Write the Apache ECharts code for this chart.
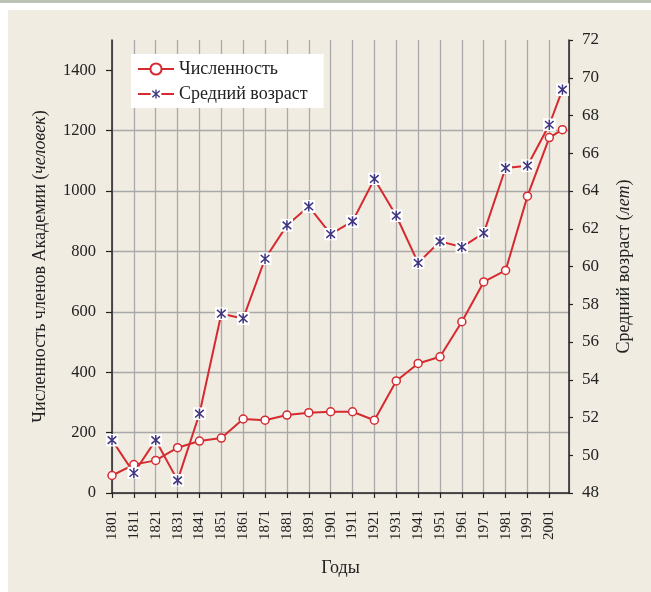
<!DOCTYPE html>
<html lang="ru">

<head>
	<meta charset="UTF-8" />
	<title>Численность и средний возраст членов Академии</title>
	<script src="https://cdn.jsdelivr.net/npm/echarts@6/dist/echarts.min.js"></script>
	<style type="text/css">
		html,
		body {
			margin: 0;
			padding: 0;
			background-color: #ffffff;
		}

		#chart {
			width: 651px;
			height: 592px;
		}
	</style>
</head>

<body>
	<div id="chart"></div>

	<script>
		//--------------------------- 數據 ---------------------------//

		const years = [1801, 1811, 1821, 1831, 1841, 1851, 1861, 1871, 1881, 1891, 1901,
			1911, 1921, 1931, 1941, 1951, 1961, 1971, 1981, 1991, 2001, 2007];

		// Численность (человек)
		const members = [58, 94, 108, 150, 172, 182, 245, 241, 258, 266, 269,
			269, 241, 371, 429, 451, 567, 699, 737, 983, 1177, 1203];

		// Средний возраст (лет)
		const avgAge = [50.8, 49.06, 50.8, 48.67, 52.2, 57.5, 57.25, 60.41, 62.18, 63.18, 61.72,
			62.39, 64.64, 62.69, 60.19, 61.33, 61.03, 61.77, 65.22, 65.34, 67.51, 69.37];

		const memberTicks = [0, 200, 400, 600, 800, 1000, 1200, 1400];

		const firstYear = 1801;

		//--------------------------- 樣式 ---------------------------//

		const font = '"Liberation Serif", "DejaVu Serif", serif';
		const red = '#d52a2f';
		const purple = '#3f3580';
		const gridGray = '#a9a9a9';
		const axisBlack = '#222222';

		const starSvg = '<svg xmlns="http://www.w3.org/2000/svg" width="24" height="24" viewBox="0 0 24 24">' +
			'<rect width="24" height="24" fill="#ffffff"/>' +
			'<path d="M12 2.5V21.5M4 5L20 19M20 5L4 19" stroke="' + purple + '" stroke-width="2.8" fill="none"/></svg>';
		const starSymbol = 'image://data:image/svg+xml;charset=utf-8,' + encodeURIComponent(starSvg);

		const toX = (y) => y - firstYear;

		//--------------------------- 圖表 ---------------------------//

		const chart = echarts.init(document.getElementById('chart'));

		chart.setOption({
			animation: false,
			backgroundColor: '#ffffff',
			textStyle: { fontFamily: font, color: '#222222' },
			graphic: [
				{ type: 'rect', shape: { x: 0, y: 0, width: 651, height: 3 }, style: { fill: '#bcc3b4' }, z: -10 },
				{ type: 'rect', shape: { x: 8, y: 10, width: 643, height: 582 }, style: { fill: '#f1ece2' }, z: -10 }
			],
			grid: {
				left: 112,
				right: 82,
				top: 40,
				bottom: 99
			},
			legend: {
				left: 131,
				top: 54,
				orient: 'vertical',
				backgroundColor: '#ffffff',
				padding: [6, 16, 5, 6],
				itemWidth: 36,
				itemHeight: 14,
				itemGap: 7,
				textStyle: { fontFamily: font, fontSize: 18, color: '#222222' },
				data: ['Численность', 'Средний возраст']
			},
			xAxis: {
				type: 'value',
				min: 0,
				max: 209,
				interval: 10,
				name: 'Годы',
				nameLocation: 'middle',
				nameGap: 66,
				nameTextStyle: { fontFamily: font, fontSize: 18, color: '#222222' },
				axisLine: { lineStyle: { color: axisBlack, width: 1.5 } },
				axisTick: { length: 5, lineStyle: { color: axisBlack, width: 1.2 } },
				axisLabel: {
					rotate: 90,
					margin: 17,
					showMaxLabel: false,
					fontFamily: font,
					fontSize: 15,
					color: '#222222',
					formatter: (v) => String(firstYear + v)
				},
				splitLine: { show: true, lineStyle: { color: gridGray, width: 1.3 } }
			},
			yAxis: [
				{
					type: 'value',
					position: 'left',
					min: 0,
					max: 1500,
					interval: 200,
					name: '{n|Численность членов Академии (}{i|человек}{n|)}',
					nameLocation: 'middle',
					nameGap: 63,
					nameRotate: 90,
					nameTextStyle: {
						rich: {
							n: { fontFamily: font, fontSize: 18, color: '#222222' },
							i: { fontFamily: font, fontSize: 18, color: '#222222', fontStyle: 'italic' }
						}
					},
					axisLine: { show: true, lineStyle: { color: axisBlack, width: 1.5 } },
					axisTick: { show: true, length: 6, customValues: memberTicks, lineStyle: { color: axisBlack, width: 1.2 } },
					axisLabel: {
						customValues: memberTicks,
						margin: 16,
						fontFamily: font,
						fontSize: 16.5,
						color: '#222222',
						formatter: (v) => String(v)
					},
					splitLine: {
						show: true,
						showMaxLine: false,
						lineStyle: { color: gridGray, width: 1.3 }
					}
				},
				{
					type: 'value',
					position: 'right',
					min: 48,
					max: 72,
					interval: 2,
					name: '{n|Средний возраст (}{i|лет}{n|)}',
					nameLocation: 'middle',
					nameGap: 46,
					nameRotate: 90,
					nameTextStyle: {
						rich: {
							n: { fontFamily: font, fontSize: 18, color: '#222222' },
							i: { fontFamily: font, fontSize: 18, color: '#222222', fontStyle: 'italic' }
						}
					},
					axisLine: { show: true, lineStyle: { color: axisBlack, width: 1.5 } },
					axisTick: { show: true, length: 4, lineStyle: { color: axisBlack, width: 1.2 } },
					axisLabel: {
						margin: 13,
						fontFamily: font,
						fontSize: 17,
						color: '#222222'
					},
					splitLine: { show: false }
				}
			],
			series: [
				{
					name: 'Численность',
					type: 'line',
					yAxisIndex: 0,
					data: years.map((y, i) => [toX(y), members[i]]),
					symbol: 'circle',
					symbolSize: 8,
					showAllSymbol: true,
					lineStyle: { color: red, width: 2 },
					itemStyle: { color: '#ffffff', borderColor: red, borderWidth: 1.5 },
					z: 3
				},
				{
					name: 'Средний возраст',
					type: 'line',
					yAxisIndex: 1,
					data: years.map((y, i) => [toX(y), avgAge[i]]),
					symbol: starSymbol,
					symbolSize: 13,
					showAllSymbol: true,
					lineStyle: { color: red, width: 2 },
					itemStyle: { color: red },
					z: 4
				}
			]
		});
	</script>
</body>

</html>
